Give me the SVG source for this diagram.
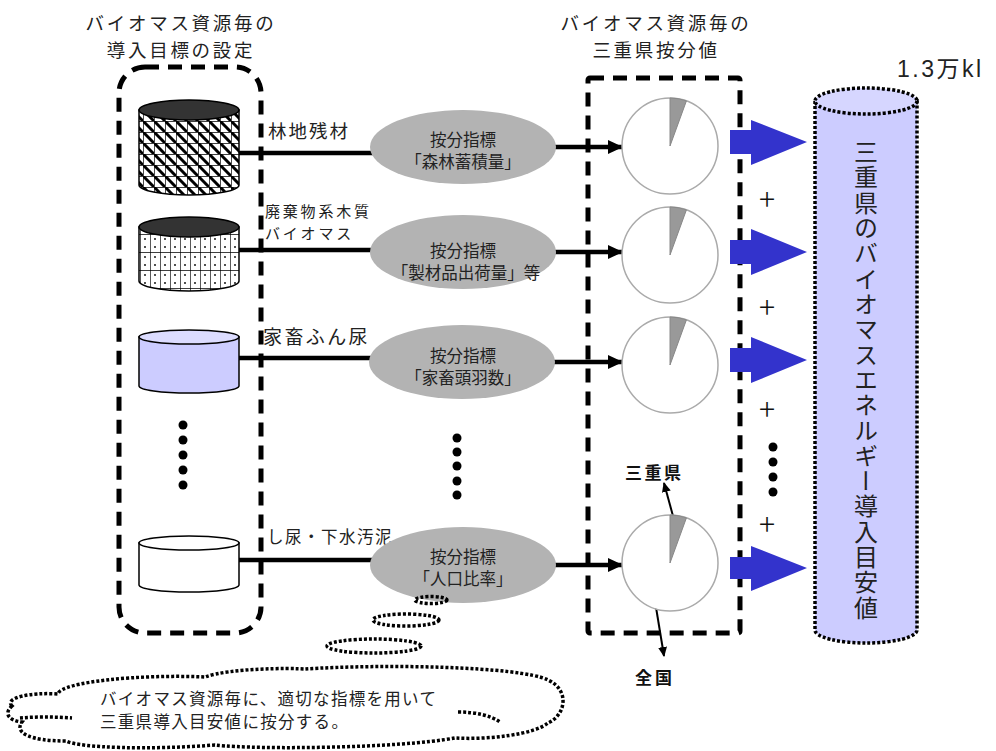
<svg xmlns="http://www.w3.org/2000/svg" width="996" height="751" viewBox="0 0 996 751">
<defs>
<style>
.t{font-family:"Noto Sans CJK JP","Liberation Sans",sans-serif;fill:#222}
.title{font-size:18.5px;letter-spacing:2.7px;text-anchor:middle}
.lbl{font-size:17px}
.ell{fill:#b3b3b3}
.etx{font-size:16.5px;text-anchor:middle}
.dash{fill:none;stroke:#000;stroke-width:5;stroke-dasharray:14 9}
.dot{stroke:#000;stroke-width:3.5;stroke-dasharray:3 2}
.cyl{stroke:#000;stroke-width:1.5}
.pie{fill:#fff;stroke:#aaa;stroke-width:1.5}
.wedge{fill:#999;stroke:#888;stroke-width:1}
.line{stroke:#000;stroke-width:4.5;fill:none}
.blue{fill:#3333cc}
.plus{font-family:"Noto Sans CJK JP","DejaVu Sans",sans-serif;font-weight:300;font-size:30px;text-anchor:middle;fill:#111}
.bd{font-weight:bold;font-size:17px;fill:#111}
</style>
<pattern id="p1" width="11" height="11" patternUnits="userSpaceOnUse">
<rect width="11" height="11" fill="#fff"/>
<path d="M0,0H11M0,0V11" stroke="#000" stroke-width="1.4"/>
<path d="M-2,-2L13,13" stroke="#000" stroke-width="3"/>
</pattern>
<pattern id="p2" width="10" height="18" patternUnits="userSpaceOnUse">
<rect width="10" height="18" fill="#fff"/>
<path d="M0,0H10M0,0V18" stroke="#000" stroke-width="1.3"/>
<circle cx="5" cy="5" r="0.9" fill="#000"/>
<circle cx="5" cy="13" r="0.9" fill="#000"/>
</pattern>
<marker id="ah" markerWidth="16" markerHeight="14" refX="14" refY="7" orient="auto" markerUnits="userSpaceOnUse">
<path d="M0,0L15,7L0,14Z" fill="#000"/>
</marker>
<marker id="ah2" markerWidth="10" markerHeight="10" refX="9" refY="5" orient="auto" markerUnits="userSpaceOnUse">
<path d="M0,0.5L10,5L0,9.5Z" fill="#000"/>
</marker>
</defs>
<rect width="996" height="751" fill="#fff"/>

<g id="titles">
<text class="t title" x="181" y="30">バイオマス資源毎の</text>
<text class="t title" x="181" y="57">導入目標の設定</text>
<text class="t title" x="656" y="30">バイオマス資源毎の</text>
<text class="t title" x="656" y="57">三重県按分値</text>
</g>

<g id="left-box"><rect class="dash" x="119" y="67" width="142" height="566" rx="26"/></g>
<g id="right-box"><rect class="dash" x="588" y="78" width="152" height="555" rx="2"/></g>

<g id="connectors">
<line class="line" x1="239" y1="153" x2="374" y2="153"/>
<line class="line" x1="239" y1="250" x2="374" y2="250"/>
<line class="line" x1="239" y1="358" x2="372" y2="358"/>
<line class="line" x1="239" y1="560" x2="374" y2="560"/>
<line class="line" x1="554" y1="147" x2="622" y2="147" marker-end="url(#ah)"/>
<line class="line" x1="554" y1="252" x2="622" y2="252" marker-end="url(#ah)"/>
<line class="line" x1="554" y1="362" x2="622" y2="362" marker-end="url(#ah)"/>
<line class="line" x1="554" y1="565" x2="622" y2="565" marker-end="url(#ah)"/>
<path class="blue" d="M730,130H751V120L807,142L751,165V154H730Z"/>
<path class="blue" d="M730,240H751V229L807,252L751,275V264H730Z"/>
<path class="blue" d="M730,348H751V337L807,360L751,383V372H730Z"/>
<path class="blue" d="M730,557H751V546L807,568L751,591V579H730Z"/>
<line x1="676" y1="527" x2="664" y2="483" stroke="#000" stroke-width="2" marker-end="url(#ah2)"/>
<line x1="653" y1="589" x2="664" y2="656" stroke="#000" stroke-width="2" marker-end="url(#ah2)"/>
</g>

<g id="cyl1">
<path class="cyl" fill="url(#p1)" d="M139,110V185A50,10 0 0 0 239,185V110Z"/>
<ellipse class="cyl" cx="189" cy="110" rx="50" ry="10" fill="#333"/>
<text class="t lbl" x="268" y="138" style="font-size:18.5px;letter-spacing:2px">林地残材</text>
</g>
<g id="cyl2">
<path class="cyl" fill="url(#p2)" d="M139,227V281A50,10 0 0 0 239,281V227Z"/>
<ellipse class="cyl" cx="189" cy="227" rx="50" ry="10" fill="#333"/>
<text class="t lbl" x="265" y="217" style="font-size:15px;letter-spacing:2.8px">廃棄物系木質</text>
<text class="t lbl" x="265" y="239" style="font-size:15px;letter-spacing:2.8px">バイオマス</text>
</g>
<g id="cyl3">
<path class="cyl" fill="#ccccff" d="M139,337V386A50,7 0 0 0 239,386V337Z"/>
<ellipse class="cyl" cx="189" cy="337" rx="50" ry="7" fill="#dcdcff"/>
<text class="t lbl" x="263" y="344" style="font-size:19px;letter-spacing:2.4px">家畜ふん尿</text>
</g>
<g id="cyl-dots">
<circle cx="183" cy="425" r="4.5" fill="#000"/><circle cx="183" cy="440" r="4.5" fill="#000"/><circle cx="183" cy="455" r="4.5" fill="#000"/><circle cx="183" cy="470" r="4.5" fill="#000"/><circle cx="183" cy="485" r="4.5" fill="#000"/>
</g>
<g id="cyl4">
<path class="cyl" fill="#fff" d="M139,543V585A50,7 0 0 0 239,585V543Z"/>
<ellipse class="cyl" cx="189" cy="543" rx="50" ry="7" fill="#fff"/>
<text class="t lbl" x="267" y="543" style="font-size:16.5px;letter-spacing:1.5px">し尿・下水汚泥</text>
</g>

<g id="ell1">
<ellipse class="ell" cx="463" cy="147" rx="93" ry="37"/>
<text class="t etx" x="463" y="146">按分指標</text>
<text class="t etx" x="463" y="168">「森林蓄積量」</text>
</g>
<g id="ell2">
<ellipse class="ell" cx="463" cy="252" rx="93" ry="37"/>
<text class="t etx" x="463" y="257">按分指標</text>
<text class="t etx" x="466" y="279">「製材品出荷量」等</text>
</g>
<g id="ell3">
<ellipse class="ell" cx="462" cy="362" rx="93" ry="37"/>
<text class="t etx" x="463" y="362">按分指標</text>
<text class="t etx" x="463" y="384">「家畜頭羽数」</text>
</g>
<g id="ell-dots">
<circle cx="457" cy="438" r="4.5" fill="#000"/><circle cx="457" cy="452" r="4.5" fill="#000"/><circle cx="457" cy="466" r="4.5" fill="#000"/><circle cx="457" cy="481" r="4.5" fill="#000"/><circle cx="457" cy="495" r="4.5" fill="#000"/>
</g>
<g id="ell4">
<ellipse class="ell" cx="463" cy="565" rx="93" ry="38"/>
<text class="t etx" x="463" y="563">按分指標</text>
<text class="t etx" x="463" y="585">「人口比率」</text>
</g>

<g id="pie1">
<circle class="pie" cx="670" cy="146" r="48"/>
<path class="wedge" d="M670,146V98A48,48 0 0 1 686.4,100.9Z"/>
</g>
<g id="pie2">
<circle class="pie" cx="670" cy="255" r="48"/>
<path class="wedge" d="M670,255V207A48,48 0 0 1 686.4,209.9Z"/>
</g>
<g id="pie3">
<circle class="pie" cx="670" cy="365" r="48"/>
<path class="wedge" d="M670,365V317A48,48 0 0 1 686.4,319.9Z"/>
</g>
<g id="pie4">
<circle class="pie" cx="670" cy="563" r="48"/>
<path class="wedge" d="M670,563V515A48,48 0 0 1 686.4,517.9Z"/>
<text class="t bd" x="625" y="479" style="letter-spacing:2.5px">三重県</text>
<text class="t bd" x="635" y="684" style="letter-spacing:3px">全国</text>
</g>

<g id="plus-signs">
<text class="plus" x="767" y="210">+</text>
<text class="plus" x="767" y="318">+</text>
<text class="plus" x="767" y="420">+</text>
<text class="plus" x="767" y="535">+</text>
<circle cx="773" cy="447" r="4.5" fill="#000"/><circle cx="773" cy="462" r="4.5" fill="#000"/><circle cx="773" cy="477" r="4.5" fill="#000"/><circle cx="773" cy="492" r="4.5" fill="#000"/>
</g>

<g id="total">
<path class="dot" fill="#ccccff" d="M815,101V630A51,13 0 0 0 917,630V101Z"/>
<ellipse class="dot" cx="866" cy="101" rx="51" ry="13" fill="#d6d6ff"/>
<text class="t" x="866" y="140" style="font-size:24px;writing-mode:vertical-rl;letter-spacing:1.3px">三重県のバイオマスエネルギー導入目安値</text>
<text x="897" y="77" style="font-family:'Liberation Sans','Noto Sans CJK JP',sans-serif;font-size:23px;letter-spacing:2.5px;fill:#222">1.3万kl</text>
</g>

<g id="cloud">
<ellipse class="dot" fill="none" cx="431" cy="600" rx="16" ry="3.5"/>
<ellipse class="dot" fill="none" cx="406" cy="620" rx="33" ry="6"/>
<ellipse class="dot" fill="none" cx="374" cy="646" rx="47" ry="7"/>
<path class="dot" fill="#fff" d="M12,706C4,698 30,692 58,694C60,682 140,674 205,677C230,668 290,668 305,669C380,664 520,666 548,680C570,690 566,715 548,723C535,734 490,740 455,738C400,748 260,750 215,745C150,750 80,748 66,741C30,741 14,733 22,722C6,720 5,712 12,706Z"/>
<path class="dot" fill="none" d="M20,718Q45,716 72,718M458,712Q485,712 500,722"/>
<text class="t" x="100" y="705" style="font-size:16.5px;letter-spacing:1.3px">バイオマス資源毎に、適切な指標を用いて</text>
<text class="t" x="100" y="728" style="font-size:16.5px;letter-spacing:1.3px">三重県導入目安値に按分する。</text>
</g>
</svg>
